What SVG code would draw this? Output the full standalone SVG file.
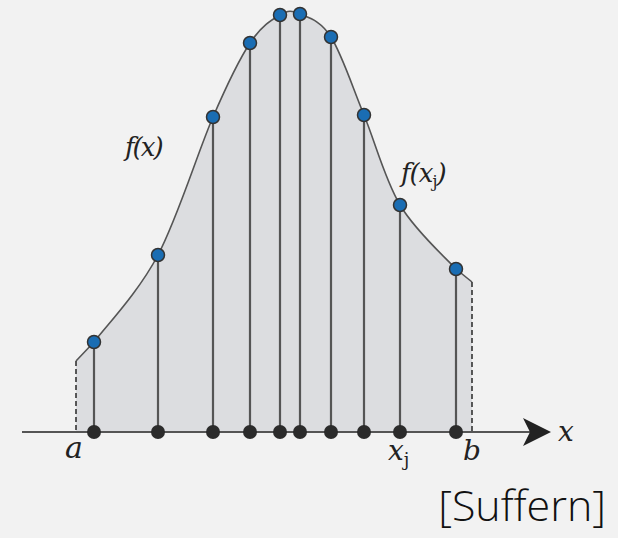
<svg xmlns="http://www.w3.org/2000/svg" width="618" height="538" viewBox="0 0 618 538">
<style>
.stem{stroke:#555;stroke-width:2.2;fill:none}
.dash{stroke:#333;stroke-width:1.6;stroke-dasharray:5,3;fill:none}
.bd{fill:#2b2b2b}
.td{fill:#1a6db3;stroke:#333;stroke-width:1.5}
.lbl{font-family:"DejaVu Serif","Liberation Serif",serif;font-style:italic;fill:#222}
</style>
<rect width="618" height="538" fill="#f2f2f2"/>
<g id="area">
<path d="M76,361 L94,342 C107.7,324.3 138.2,292.5 158,255 C177.8,217.5 197.7,152.3 213,117 C228.3,81.7 238.8,60 250,43 C261.2,26 271.7,19.8 280,15 C288.3,10.2 291.5,10.3 300,14 C308.5,17.7 320.3,20.2 331,37 C341.7,53.8 352.5,87 364,115 C375.5,143 384.7,179.3 400,205 C415.3,230.7 444,256.2 456,269 L472,282 L472,432 L76,432 Z" fill="#dcdde0"/>
<path d="M76,361 L94,342 C107.7,324.3 138.2,292.5 158,255 C177.8,217.5 197.7,152.3 213,117 C228.3,81.7 238.8,60 250,43 C261.2,26 271.7,19.8 280,15 C288.3,10.2 291.5,10.3 300,14 C308.5,17.7 320.3,20.2 331,37 C341.7,53.8 352.5,87 364,115 C375.5,143 384.7,179.3 400,205 C415.3,230.7 444,256.2 456,269 L472,282" fill="none" stroke="#555" stroke-width="1.6"/>
</g>
<g id="connectors">
<line class="dash" x1="76" y1="361" x2="76" y2="432"/>
<line class="dash" x1="472" y1="282" x2="472" y2="432"/>
<line class="stem" x1="94" y1="342" x2="94" y2="432"/>
<line class="stem" x1="158" y1="255" x2="158" y2="432"/>
<line class="stem" x1="213" y1="117" x2="213" y2="432"/>
<line class="stem" x1="250" y1="43" x2="250" y2="432"/>
<line class="stem" x1="280" y1="15" x2="280" y2="432"/>
<line class="stem" x1="300" y1="14" x2="300" y2="432"/>
<line class="stem" x1="331" y1="37" x2="331" y2="432"/>
<line class="stem" x1="364" y1="115" x2="364" y2="432"/>
<line class="stem" x1="400" y1="205" x2="400" y2="432"/>
<line class="stem" x1="456" y1="269" x2="456" y2="432"/>
<line x1="22" y1="432" x2="535" y2="432" stroke="#555" stroke-width="1.8"/>
<path d="M523,418 L551,432 L523,446 L530,432 Z" fill="#222"/>
</g>
<g id="bottom-dots">
<circle class="bd" cx="94" cy="432" r="7"/>
<circle class="bd" cx="158" cy="432" r="7"/>
<circle class="bd" cx="213" cy="432" r="7"/>
<circle class="bd" cx="250" cy="432" r="7"/>
<circle class="bd" cx="280" cy="432" r="7"/>
<circle class="bd" cx="300" cy="432" r="7"/>
<circle class="bd" cx="331" cy="432" r="7"/>
<circle class="bd" cx="364" cy="432" r="7"/>
<circle class="bd" cx="400" cy="432" r="7"/>
<circle class="bd" cx="456" cy="432" r="7"/>
</g>
<g id="top-dots">
<circle class="td" cx="94" cy="342" r="6.5"/>
<circle class="td" cx="158" cy="255" r="6.5"/>
<circle class="td" cx="213" cy="117" r="6.5"/>
<circle class="td" cx="250" cy="43" r="6.5"/>
<circle class="td" cx="280" cy="15" r="6.5"/>
<circle class="td" cx="300" cy="14" r="6.5"/>
<circle class="td" cx="331" cy="37" r="6.5"/>
<circle class="td" cx="364" cy="115" r="6.5"/>
<circle class="td" cx="400" cy="205" r="6.5"/>
<circle class="td" cx="456" cy="269" r="6.5"/>
</g>
<g id="labels">
<text class="lbl" x="65" y="458" font-size="30">a</text>
<text class="lbl" x="388" y="460" font-size="28">x<tspan font-size="18" dy="6" font-style="normal">j</tspan></text>
<text class="lbl" x="463" y="460" font-size="28">b</text>
<text class="lbl" x="558" y="441" font-size="28">x</text>
<text class="lbl" x="125" y="156" font-size="26" letter-spacing="-2">f(x)</text>
<text class="lbl" x="401" y="182" font-size="26" letter-spacing="-1">f(x<tspan font-size="16" dy="5" font-style="normal">j</tspan><tspan dy="-5">)</tspan></text>
<text x="606" y="521" font-family="'Open Sans',sans-serif" font-weight="300" font-size="43" fill="#111" text-anchor="end">[Suffern]</text>
</g>
</svg>
